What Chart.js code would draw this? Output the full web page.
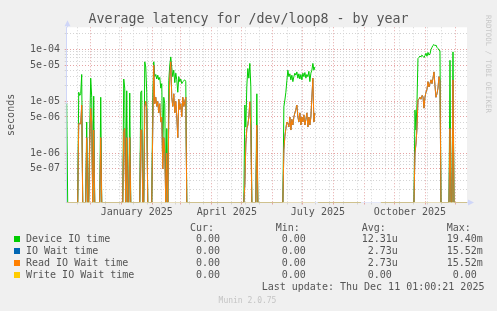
<!DOCTYPE html>
<html><head><meta charset="utf-8">
<script src="https://cdn.jsdelivr.net/npm/chart.js@4/dist/chart.umd.min.js"></script>
<style>
html,body{margin:0;padding:0;background:#f0f0f0;}
#wrap{position:relative;width:497px;height:311px;overflow:hidden;font-family:'DejaVu Sans Mono',monospace;color:#555;}
#c{position:absolute;left:0;top:0;}
.t{position:absolute;font-size:10px;line-height:12px;white-space:pre;}
.sw{position:absolute;width:6px;height:6px;}
</style></head>
<body><div id="wrap"><canvas id="c" width="497" height="311"></canvas><div id="leg"></div></div>
<script>
// ---- data (day index counted from 6 Nov 2024; 0 = zero latency, null = unknown) ----
const days = [1,2,12,13,14,15,16,17,20,21,22,23,24,25,26,27,28,29,34,35,36,
  57,58,59,60,61,62,63,64,65,74,75,76,77,78,79,80,81,82,86,87,88,89,90,91,92,93,94,95,96,97,98,99,100,101,102,
  103,104,105,106,107,108,109,110,111,112,113,114,115,116,117,118,119,120,121,
  178,179,180,181,182,183,184,185,186,190,191,192,
  217,218,219,220,221,222,223,224,225,226,227,228,229,230,231,232,233,234,235,236,237,238,239,240,241,242,243,244,245,246,247,248,249,250,252,
  295,296,315,348,349,350,351,352,353,354,355,356,357,358,359,360,361,362,363,364,365,366,367,368,369,370,371,372,373,374,375,
  383,384,385,386,387,388,401];
const deviceIO = [9e-6,0,0,1.5e-5,1.3e-5,1.4e-5,3.3e-5,0,0,4e-6,0,0,3e-6,2.8e-5,1.2e-5,0,1.26e-5,0,0,1.2e-5,0,
  0,2.7e-5,1.8e-5,0,1.6e-5,0,0,1.45e-5,0,0,1.5e-5,1.6e-5,0,0,5.8e-5,4.6e-5,1.5e-5,0,0,1.2e-5,5.8e-5,3e-5,3.3e-5,2.7e-5,3.2e-5,2.6e-5,2.9e-5,1.8e-5,2.2e-5,1e-6,1.2e-5,9e-6,0,3e-6,0,
  2.5e-5,5e-5,7.2e-5,4.5e-5,3e-5,4e-5,2.3e-5,3.5e-5,2.6e-5,1.5e-5,3e-5,2.4e-5,2.7e-5,2.2e-5,2.4e-5,2.5e-5,2.6e-5,2.4e-5,0,
  0,8.5e-6,3.2e-6,2e-5,4.3e-5,2.8e-5,5.4e-5,1.9e-5,0,0,1.4e-5,0,
  0,7.9e-6,1.06e-5,1.5e-5,2.5e-5,4e-5,3e-5,3.4e-5,2.6e-5,3.2e-5,2.4e-5,3e-5,3.5e-5,3.2e-5,3.7e-5,2.8e-5,3.4e-5,2.7e-5,3.3e-5,2.6e-5,3.5e-5,3e-5,3.6e-5,2.8e-5,3.3e-5,3e-5,3.8e-5,2.4e-5,3.5e-5,4e-5,5.4e-5,4e-5,4.6e-5,null,0,
  0,null,0,0,6.8e-6,2.8e-6,9e-6,6.7e-5,7e-5,7.5e-5,7.2e-5,7.8e-5,7.4e-5,7e-5,7.6e-5,8.5e-5,7.4e-5,8.8e-5,7.8e-5,8.2e-5,1e-4,1.1e-4,1.2e-4,1.25e-4,1.18e-4,1.22e-4,1.1e-4,1.05e-4,9.7e-5,9.5e-5,0,
  0,6.2e-5,0,0,9e-5,0,0];
const readIO = [0,0,0,3.7e-6,3.7e-6,3.7e-6,8.5e-6,0,0,2e-6,0,0,1.5e-6,7.4e-6,4e-6,0,2.8e-6,0,0,2e-6,0,
  0,2.6e-6,3e-6,0,2e-6,0,0,2e-6,0,0,2.8e-6,2.8e-6,0,0,8e-6,1e-5,7e-6,0,0,3e-6,5e-5,9e-6,1.2e-5,8e-6,1e-5,6e-6,9e-6,4e-6,5e-6,5e-7,2e-6,1e-6,0,1e-6,0,
  5e-6,3e-5,5.8e-5,1.2e-5,8e-6,1.4e-5,6e-6,1e-5,5e-6,2e-6,1.1e-5,7e-6,9e-6,5e-6,1.2e-5,8e-6,1e-5,1.2e-5,0,
  0,2.5e-7,1.5e-6,3e-6,3.5e-6,5e-6,9.8e-6,3e-6,0,0,3.5e-6,0,
  0,1.16e-6,2.1e-6,3e-6,4e-6,3.8e-6,3.2e-6,5e-6,2.8e-6,4.5e-6,3.5e-6,5e-6,6e-6,7e-6,8.5e-6,5e-6,4e-6,6e-6,3.5e-6,5e-6,4e-6,5.5e-6,3.5e-6,4.5e-6,6e-6,3.2e-6,5e-6,3.5e-6,5e-6,1.2e-5,2.8e-5,4e-6,6e-6,null,0,
  0,null,0,0,1e-6,1.5e-6,3e-6,1.06e-5,1.1e-5,1.2e-5,1.1e-5,1.3e-5,1.25e-5,7.4e-6,1.2e-5,1.5e-5,1.7e-5,2.4e-5,1.9e-5,2.2e-5,2.6e-5,2.2e-5,2.8e-5,3.7e-5,2e-5,1.2e-5,1.4e-5,1.8e-5,3e-5,2.5e-5,0,
  0,3e-6,0,0,2.6e-5,0,0];
const ioWait = readIO; // IO Wait time equals Read IO Wait time (write wait is zero)
const writeDays = [1,249,250,252,295,296,315,401];
const writeIO = [0,0,null,0,0,null,0,0];

// axis ticks
const yTicks = [2e-7,3e-7,4e-7,5e-7,6e-7,7e-7,8e-7,9e-7,1e-6,2e-6,3e-6,4e-6,5e-6,6e-6,7e-6,8e-6,9e-6,
  1e-5,2e-5,3e-5,4e-5,5e-5,6e-5,7e-5,8e-5,9e-5,1e-4,2e-4];
const yLabelValues = [5e-7,1e-6,5e-6,1e-5,5e-5,1e-4];
const yLabelTexts = ['5e-07','1e-06','5e-06','1e-05','5e-05','1e-04'];
const monthStartDays = [25,56,87,115,146,176,207,237,268,299,329,360,390];
const minorDays = [11.5,39.5,53.5,67.5,81.5,95.5,109.5,123.5,137.5,151.5,165.5,179.5,193.5,221.5,235.5,249.5,263.5,277.5,291.5,305.5,319.5,333.5,347.5,361.5,375.5];
const xLabelDays = [71,161,252,344];
const xLabelTexts = ['January 2025','April 2025','July 2025','October 2025'];

// legend
const seriesNames = ['Device IO time','IO Wait time','Read IO Wait time','Write IO Wait time'];
const seriesColors = ['#00cc00','#0066b3','#ff8000','#ffcc00'];
const curVals = ['0.00','0.00','0.00','0.00'];
const minVals = ['0.00','0.00','0.00','0.00'];
const avgVals = ['12.31','2.73','2.73','0.00'];
const avgUnits = ['u','u','u',''];
const maxVals = ['19.40','15.52','15.52','0.00'];
const maxUnits = ['m','m','m',''];

const Y_MIN = 1.122e-7, Y_MAX = 2.686e-4;
const MAJOR = '#e4a4a4', MINOR = '#d4d4d4', AXIS = '#CFD6F8';

function pts(xs, vals){ return xs.map((d,i)=>({x:d, y: vals[i]===null ? null : (vals[i]===0 ? Y_MIN : vals[i])})); }

const xTickList = [];
monthStartDays.forEach(v=>xTickList.push({v, kind:'major', label:''}));
minorDays.forEach(v=>xTickList.push({v, kind:'minor', label:''}));
xLabelDays.forEach((v,i)=>xTickList.push({v, kind:'label', label:xLabelTexts[i]}));
xTickList.sort((a,b)=>a.v-b.v);

function yLabel(v){ for(let i=0;i<yLabelValues.length;i++){ if(Math.abs(v/yLabelValues[i]-1)<1e-6) return yLabelTexts[i]; } return ''; }
function yKind(v){ return yLabel(v) ? 'major':'minor'; }

Chart.defaults.font.family = "'DejaVu Sans Mono', monospace";
Chart.defaults.color = '#555';

const decor = {
  id:'decor',
  beforeDraw(chart){ const {ctx, chartArea:a} = chart; ctx.save(); ctx.fillStyle='#ffffff'; ctx.fillRect(a.left, a.top, a.right-a.left, a.bottom-a.top); ctx.restore(); },
  afterDatasetsDraw(chart){
    const {ctx, chartArea:a} = chart; ctx.save();
    ctx.strokeStyle = 'rgba(207,214,248,0.5)'; ctx.lineWidth = 1;
    const by = Math.floor(a.bottom)+0.5;
    ctx.beginPath(); ctx.moveTo(a.left-1, by); ctx.lineTo(a.right, by); ctx.stroke();
    ctx.restore();
  },
  afterDraw(chart){
    const {ctx, chartArea:a} = chart; ctx.save();
    ctx.strokeStyle = AXIS; ctx.fillStyle = AXIS; ctx.lineWidth = 1;
    const lx = Math.round(a.left)+0.5, by = Math.floor(a.bottom)+0.5;
    ctx.beginPath(); ctx.moveTo(lx, a.top); ctx.lineTo(lx, a.top-2); ctx.stroke();
    ctx.beginPath(); ctx.moveTo(lx, a.top-7); ctx.lineTo(lx-3, a.top-1); ctx.lineTo(lx+3, a.top-1); ctx.closePath(); ctx.fill();
    ctx.beginPath(); ctx.moveTo(a.right, by); ctx.lineTo(a.right+2, by); ctx.stroke();
    ctx.beginPath(); ctx.moveTo(a.right+7, by); ctx.lineTo(a.right+1, by-3); ctx.lineTo(a.right+1, by+3); ctx.closePath(); ctx.fill();
    ctx.restore();
  }
};

const ds = (label, xs, vals, color, order) => ({label, data: pts(xs, vals), borderColor: color, backgroundColor: color,
  borderWidth: 1, pointRadius: 0, tension: 0, spanGaps: false, order, yAxisID: 'y'});

new Chart(document.getElementById('c'), {
  type: 'line',
  data: { datasets: [
    ds(seriesNames[0], days, deviceIO, seriesColors[0], 4),
    ds(seriesNames[1], days, ioWait, seriesColors[1], 3),
    ds(seriesNames[2], days, readIO, seriesColors[2], 2),
    ds(seriesNames[3], writeDays, writeIO, seriesColors[3], 1)
  ]},
  options: {
    responsive: false, animation: false, devicePixelRatio: 1,
    layout: { padding: { left: 0, right: 0, top: 0, bottom: 88.5 } },
    plugins: {
      legend: { display: false }, tooltip: { enabled: false },
      title: { display: true, text: 'Average latency for /dev/loop8 - by year', color: '#555',
        font: { size: 13.3, weight: 'normal' }, padding: { top: 11.3, bottom: 0 } }
    },
    scales: {
      x: {
        type: 'linear', min: 1, max: 401,
        afterBuildTicks: s => { s.ticks = xTickList.map(t=>({value:t.v})); },
        afterFit: s => { s.height = 20; },
        ticks: { autoSkip: false, maxRotation: 0, minRotation: 0, padding: 2, color: '#555', font: { size: 10 },
          callback: (v, i) => xTickList[i] ? xTickList[i].label : '' },
        grid: {
          color: c => { const t = xTickList[c.index]; return !t || t.kind==='label' ? 'rgba(0,0,0,0)' : (t.kind==='major' ? MAJOR : MINOR); },
          tickColor: c => { const t = xTickList[c.index]; return !t || t.kind==='label' ? 'rgba(0,0,0,0)' : (t.kind==='major' ? MAJOR : MINOR); },
          drawTicks: true, tickLength: 2, lineWidth: 1, tickBorderDash: []
        },
        border: { display: false, color: AXIS, dash: [1,2] }
      },
      y: {
        type: 'logarithmic', position: 'left', min: Y_MIN, max: Y_MAX,
        afterBuildTicks: s => { s.ticks = yTicks.map(v=>({value:v})); },
        afterFit: s => { s.width = 66.7; },
        ticks: { autoSkip: false, padding: 4.7, color: '#555', font: { size: 10 }, callback: v => yLabel(v) },
        grid: {
          color: c => c.tick ? (yKind(c.tick.value)==='major' ? MAJOR : MINOR) : MINOR,
          tickColor: c => c.tick ? (yKind(c.tick.value)==='major' ? MAJOR : MINOR) : MINOR,
          drawTicks: true, tickLength: 2, lineWidth: 1, tickBorderDash: []
        },
        border: { display: true, color: AXIS, dash: [1,2] },
        title: { display: true, text: 'seconds', color: '#555', font: { size: 10 }, padding: { top: 5, bottom: 0 } }
      },
      yr: {
        type: 'linear', position: 'right', display: true,
        afterFit: s => { s.width = 30; },
        ticks: { display: false }, grid: { display: false, drawTicks: false }, border: { display: false }
      }
    }
  },
  plugins: [decor]
});

// ---- legend / footer as text ----
const leg = document.getElementById('leg');
function txt(s, left, top, extra){ const d = document.createElement('div'); d.className='t'; d.textContent = s; d.style.left = left+'px'; d.style.top = top+'px'; if (extra) Object.assign(d.style, extra); leg.appendChild(d); }
function pad6(s){ return (' '.repeat(6) + s).slice(-6); }
const colX = [184, 269.7, 355.7, 440.7];
const headTop = 222;
[' Cur:',' Min:',' Avg:',' Max:'].forEach((h,i)=>txt(h, colX[i], headTop));
seriesNames.forEach((n,i)=>{
  const top = 233.3 + i*12;
  const sw = document.createElement('div'); sw.className='sw'; sw.style.left='14px'; sw.style.top=(top+3)+'px'; sw.style.background=seriesColors[i]; leg.appendChild(sw);
  txt(n, 26, top);
  txt(pad6(curVals[i]), colX[0], top);
  txt(pad6(minVals[i]), colX[1], top);
  txt(pad6(avgVals[i]) + avgUnits[i], colX[2], top);
  txt(pad6(maxVals[i]) + maxUnits[i], colX[3], top);
});
txt('Last update: Thu Dec 11 01:00:21 2025', 261.7, 281.3);
txt('Munin 2.0.75', 218.6, 295.5, {fontSize:'8px', lineHeight:'10px', color:'#c4c4c4'});
txt('RRDTOOL / TOBI OETIKER', 483.5, 15, {fontSize:'7.4px', lineHeight:'9px', color:'#c8c8c8', writingMode:'vertical-rl'});
</script>
</body></html>
